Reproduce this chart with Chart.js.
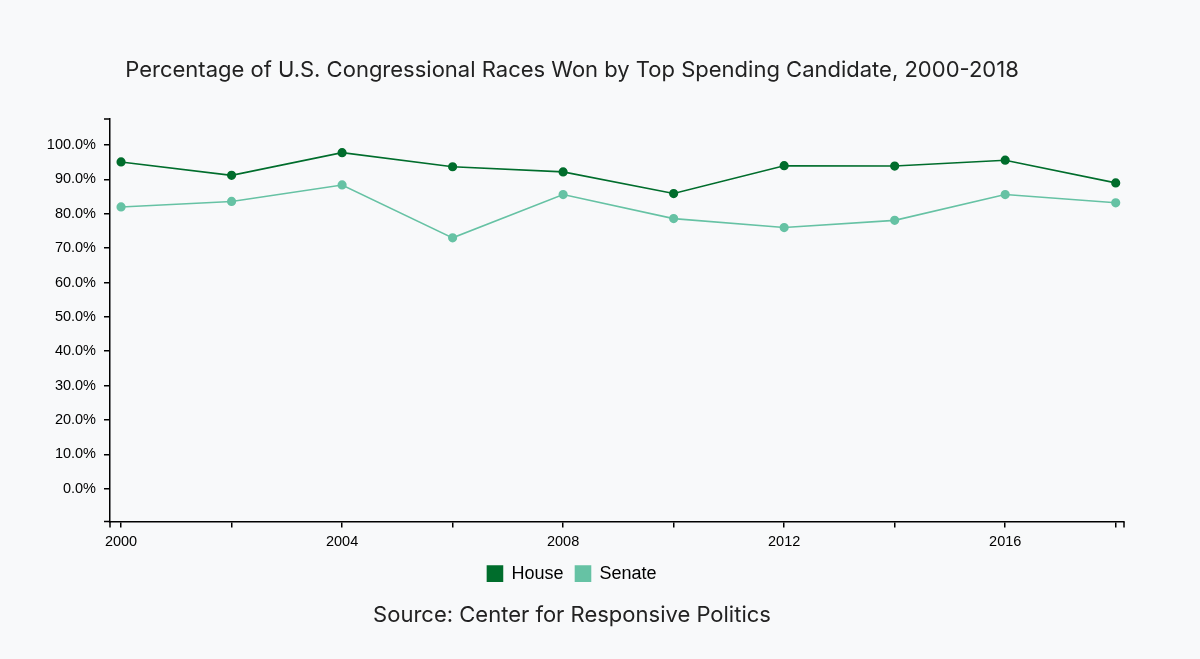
<!DOCTYPE html>
<html>
<head>
<meta charset="utf-8">
<script src="https://cdn.jsdelivr.net/npm/chart.js@4/dist/chart.umd.min.js"></script>
<style>
  html, body { margin: 0; padding: 0; background: #f8f9fa; }
  #wrap { position: relative; width: 1200px; height: 659px; }
</style>
</head>
<body>
<div id="wrap"><canvas id="lineChart" width="1200" height="659"></canvas></div>
<script>
  var years = [2000, 2002, 2004, 2006, 2008, 2010, 2012, 2014, 2016, 2018];
  var house = [95.1, 91.2, 97.8, 93.7, 92.2, 85.9, 94.0, 93.9, 95.6, 89.0];
  var senate = [82.0, 83.6, 88.4, 73.0, 85.6, 78.6, 76.0, 78.1, 85.6, 83.2];
  var yTicks = [0, 10, 20, 30, 40, 50, 60, 70, 80, 90, 100];
  var xTicks = [2000, 2002, 2004, 2006, 2008, 2010, 2012, 2014, 2016, 2018];
  var xLabelYears = [2000, 2004, 2008, 2012, 2016];

  var tickFont = { family: "'Liberation Sans', Arial, sans-serif", size: 14.5, lineHeight: 1 };

  // d3-like outer ticks at the ends of each axis
  var outerTicks = {
    id: "outerTicks",
    afterDraw: function (chart) {
      var ctx = chart.ctx;
      var a = chart.chartArea;
      ctx.save();
      ctx.strokeStyle = "#000";
      ctx.lineWidth = 1.5;
      ctx.beginPath();
      ctx.moveTo(a.left - 6, a.top);
      ctx.lineTo(a.left, a.top);
      ctx.moveTo(a.left - 6, a.bottom);
      ctx.lineTo(a.left, a.bottom);
      ctx.moveTo(a.left, a.bottom);
      ctx.lineTo(a.left, a.bottom + 6);
      ctx.moveTo(a.right, a.bottom);
      ctx.lineTo(a.right, a.bottom + 6);
      ctx.stroke();
      ctx.restore();
    }
  };

  var ctx = document.getElementById("lineChart").getContext("2d");
  var lineChart = new Chart(ctx, {
    type: "line",
    data: {
      datasets: [
        {
          label: "House",
          data: years.map(function (y, i) { return { x: y, y: house[i] }; }),
          borderColor: "#006d2c",
          backgroundColor: "#006d2c",
          borderWidth: 1.6,
          pointRadius: 3.8,
          pointHoverRadius: 3.8,
          tension: 0,
        },
        {
          label: "Senate",
          data: years.map(function (y, i) { return { x: y, y: senate[i] }; }),
          borderColor: "#66c2a4",
          backgroundColor: "#66c2a4",
          borderWidth: 1.6,
          pointRadius: 3.8,
          pointHoverRadius: 3.8,
          tension: 0,
        },
      ],
    },
    options: {
      responsive: false,
      animation: false,
      layout: { padding: { left: 20, right: 76, top: 0, bottom: 22 } },
      scales: {
        x: {
          type: "linear",
          min: 1999.8,
          max: 2018.15,
          afterBuildTicks: function (axis) {
            axis.ticks = xTicks.map(function (v) { return { value: v }; });
          },
          afterFit: function (scale) { scale.height = 31; },
          border: { display: true, color: "#000", width: 1.5 },
          grid: { drawOnChartArea: false, drawTicks: true, tickLength: 6, color: "#000", lineWidth: 1.5 },
          ticks: {
            color: "#000",
            font: tickFont,
            padding: 7,
            maxRotation: 0,
            autoSkip: false,
            callback: function (v) { return xLabelYears.indexOf(v) >= 0 ? String(v) : ""; },
          },
        },
        y: {
          min: -9.6,
          max: 107.6,
          afterBuildTicks: function (axis) {
            axis.ticks = yTicks.map(function (v) { return { value: v }; });
          },
          afterFit: function (scale) { scale.width = 90; },
          border: { display: true, color: "#000", width: 1.5 },
          grid: { drawOnChartArea: false, drawTicks: true, tickLength: 6, color: "#000", lineWidth: 1.5 },
          ticks: {
            color: "#000",
            font: tickFont,
            padding: 8,
            autoSkip: false,
            callback: function (v) { return v.toFixed(1) + "%"; },
          },
        },
      },
      plugins: {
        title: {
          display: true,
          text: "Percentage of U.S. Congressional Races Won by Top Spending Candidate, 2000-2018",
          color: "#222",
          font: { family: "Inter, 'Noto Sans', sans-serif", size: 22, weight: "normal" },
          padding: { top: 57, bottom: 35.6 },
        },
        subtitle: {
          display: true,
          position: "bottom",
          text: "Source: Center for Responsive Politics",
          color: "#222",
          font: { family: "Inter, 'Noto Sans', sans-serif", size: 22, weight: "normal" },
          padding: { top: 10, bottom: 8 },
        },
        legend: {
          display: true,
          position: "bottom",
          labels: {
            boxWidth: 15,
            boxHeight: 15,
            color: "#000",
            font: { family: "'Liberation Sans', Arial, sans-serif", size: 18 },
            padding: 12,
          },
        },
        tooltip: { enabled: true },
      },
    },
    plugins: [outerTicks],
  });
</script>
</body>
</html>
